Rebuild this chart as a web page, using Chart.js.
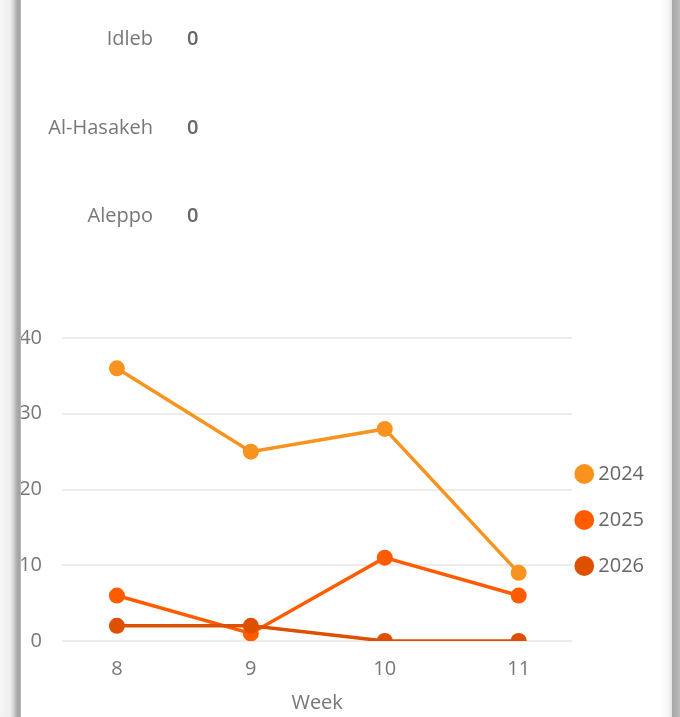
<!DOCTYPE html>
<html>
<head>
<meta charset="utf-8">
<script src="https://cdn.jsdelivr.net/npm/chart.js@4/dist/chart.umd.min.js"></script>
<style>
  html, body { margin: 0; padding: 0; background: #fff; width: 680px; height: 717px; overflow: hidden; }
  #page { position: relative; width: 680px; height: 717px; }
  canvas { position: absolute; }
  #barChart { left: 0; top: -29px; }
  #lineChart { left: 0; top: 306px; }
  .edgeLeft { position: absolute; left: 0; top: 0; width: 21px; height: 717px;
    background: linear-gradient(to right, #f6f6f6 0%, #ececec 50%, #d2d2d2 65%, #aeaeae 80%, #a0a0a0 92%, #c0c0c0 100%); z-index: 5; }
  .edgeRight { position: absolute; left: 660px; top: 0; width: 20px; height: 717px;
    background: linear-gradient(to right, #ffffff 0%, #f6f6f6 40%, #e6e6e6 58%, #a8a8a8 62%, #b0b0b0 80%, #bcbcbc 100%); z-index: 5; }
</style>
</head>
<body>
<div id="page">
  <canvas id="barChart" width="660" height="314"></canvas>
  <canvas id="lineChart" width="680" height="411"></canvas>
  <div class="edgeLeft"></div>
  <div class="edgeRight"></div>
</div>
<script>
// --- datos ---
const regions = ['Idleb', 'Al-Hasakeh', 'Aleppo'];
const regionValues = [0, 0, 0];

const weeks = [8, 9, 10, 11];
const years = ['2024', '2025', '2026'];
const cases2024 = [36, 25, 28, 9];
const cases2025 = [6, 1, 11, 6];
const cases2026 = [2, 2, 0, 0];
const yTicks = [0, 10, 20, 30, 40];

const COLORS = ['#F7931E', '#FF5C00', '#DC5000'];
const FONT = "'Open Sans', 'Noto Sans', sans-serif";
const TEXT = '#777';

// etiquetas de valor al final de cada barra
const valueLabels = {
  id: 'valueLabels',
  afterDatasetsDraw(chart) {
    const ctx = chart.ctx;
    const xs = chart.scales.x;
    const ys = chart.scales.y;
    ctx.save();
    ctx.font = '600 20px ' + FONT;
    ctx.fillStyle = '#666';
    ctx.textAlign = 'left';
    ctx.textBaseline = 'middle';
    chart.data.datasets[0].data.forEach((v, i) => {
      ctx.fillText(String(v), xs.getPixelForValue(v) + 22, ys.getPixelForValue(i));
    });
    ctx.restore();
  }
};

new Chart(document.getElementById('barChart'), {
  type: 'bar',
  data: {
    labels: regions,
    datasets: [{ data: regionValues, backgroundColor: COLORS[0] }]
  },
  options: {
    indexAxis: 'y',
    responsive: false,
    animation: false,
    layout: { padding: 0 },
    plugins: { legend: { display: false }, tooltip: { enabled: false } },
    scales: {
      x: { display: false, min: 0, max: 10 },
      y: {
        grid: { display: false, drawTicks: false },
        border: { display: false },
        ticks: { padding: 12, color: TEXT, font: { family: FONT, size: 20 } },
        afterFit: s => { s.width = 165; }
      }
    }
  },
  plugins: [valueLabels]
});

// mover la leyenda a su sitio
const legendShift = {
  id: 'legendShift',
  afterLayout(chart) {
    const lg = chart.legend;
    lg.left -= 18; lg.right -= 18;
    lg.top += 7; lg.bottom += 7;
  }
};

const series = [cases2024, cases2025, cases2026];

new Chart(document.getElementById('lineChart'), {
  type: 'line',
  data: {
    datasets: series.map((vals, i) => ({
      label: years[i],
      data: weeks.map((w, j) => ({ x: w, y: vals[j] })),
      borderColor: COLORS[i],
      backgroundColor: COLORS[i],
      pointBackgroundColor: COLORS[i],
      pointBorderWidth: 0,
      pointRadius: 8,
      borderWidth: 3.5,
      tension: 0,
      order: 2 - i
    }))
  },
  options: {
    responsive: false,
    animation: false,
    layout: { padding: { top: 3, right: 8, left: 0, bottom: 0 } },
    plugins: {
      tooltip: { enabled: false },
      legend: {
        position: 'right',
        labels: {
          usePointStyle: true,
          pointStyle: 'circle',
          boxWidth: 8,
          boxHeight: 14,
          padding: 26,
          color: '#666',
          font: { family: FONT, size: 20 },
          sort: (a, b) => a.datasetIndex - b.datasetIndex
        }
      }
    },
    scales: {
      x: {
        type: 'linear',
        min: 7.59,
        max: 11.4,
        grid: { display: false, drawTicks: false },
        border: { display: false },
        afterBuildTicks: s => { s.ticks = weeks.map(v => ({ value: v })); },
        ticks: { padding: 16, color: TEXT, font: { family: FONT, size: 20 } },
        title: { display: true, text: 'Week', color: TEXT, font: { family: FONT, size: 20 }, padding: { top: 2, bottom: 2 } },
        afterFit: s => { s.height = 76; }
      },
      y: {
        min: 0,
        max: 40,
        grid: { color: '#ececec', lineWidth: 2, drawTicks: false },
        border: { display: false },
        afterBuildTicks: s => { s.ticks = yTicks.map(v => ({ value: v })); },
        ticks: { padding: 20, color: TEXT, font: { family: FONT, size: 20 } },
        afterFit: s => { s.width = 62; }
      }
    }
  },
  plugins: [legendShift]
});
</script>
</body>
</html>
